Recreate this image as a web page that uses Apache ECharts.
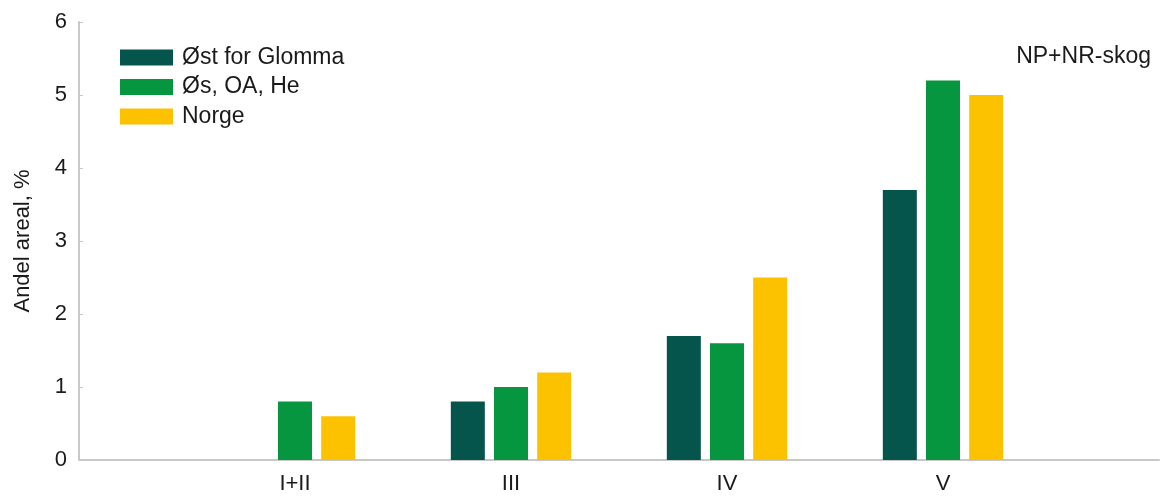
<!DOCTYPE html>
<html>
<head>
<meta charset="UTF-8" />
<title>Andel areal</title>
<script src="https://cdn.jsdelivr.net/npm/echarts@6/dist/echarts.min.js"></script>
<style>
html, body { margin: 0; padding: 0; background: #fff; }
</style>
</head>
<body>
<div id="chart" style="width: 1162px; height: 498px;"></div>
<script>
// kategorier (tomme ender gir luft på begge sider, som i originalen)
var categories = ["", "I+II", "III", "IV", "V", ""];
var seriesNames = ["Øst for Glomma", "Øs, OA, He", "Norge"];
var ostForGlomma = [null, 0, 0.8, 1.7, 3.7, null];
var osOaHe = [null, 0.8, 1.0, 1.6, 5.2, null];
var norge = [null, 0.6, 1.2, 2.5, 5.0, null];
var yTicks = [0, 1, 2, 3, 4, 5, 6];

var colors = ["#06554d", "#05963f", "#fcc200"];
var font = "Liberation Sans, Arial, sans-serif";

var myChart = echarts.init(document.getElementById("chart"));

var option = {
  animation: false,
  textStyle: { fontFamily: font },
  title: {
    text: "NP+NR-skog",
    right: 6,
    top: 40,
    textStyle: { fontFamily: font, fontSize: 23, fontWeight: "normal", color: "#1a1a1a" }
  },
  legend: {
    orient: "vertical",
    left: 115,
    top: 41,
    itemWidth: 53,
    itemHeight: 16,
    itemGap: 6.5,
    icon: "rect",
    data: seriesNames,
    textStyle: { fontFamily: font, fontSize: 23, color: "#1a1a1a", padding: [0, 0, 0, 4] }
  },
  grid: { left: 79, right: 2, top: 22, bottom: 38 },
  xAxis: {
    type: "category",
    data: categories,
    boundaryGap: false,
    axisLine: { lineStyle: { color: "#c8c8c8", width: 2 } },
    axisTick: { show: false },
    axisLabel: { fontFamily: font, fontSize: 22, color: "#1a1a1a", margin: 13 }
  },
  yAxis: {
    type: "value",
    min: yTicks[0],
    max: yTicks[yTicks.length - 1],
    interval: 1,
    name: "Andel areal, %",
    nameLocation: "middle",
    nameGap: 45,
    nameTextStyle: { fontFamily: font, fontSize: 22, color: "#1a1a1a" },
    axisLine: { show: true, lineStyle: { color: "#c8c8c8", width: 2 } },
    axisTick: { show: true, inside: true, length: 4, lineStyle: { color: "#c8c8c8" } },
    splitLine: { show: false },
    axisLabel: { fontFamily: font, fontSize: 22, color: "#1a1a1a", margin: 12 }
  },
  series: [
    { name: seriesNames[0], type: "bar", data: ostForGlomma, barWidth: 34, barGap: "27%", itemStyle: { color: colors[0] } },
    { name: seriesNames[1], type: "bar", data: osOaHe, barWidth: 34, barGap: "27%", itemStyle: { color: colors[1] } },
    { name: seriesNames[2], type: "bar", data: norge, barWidth: 34, barGap: "27%", itemStyle: { color: colors[2] } }
  ]
};

myChart.setOption(option);
</script>
</body>
</html>
